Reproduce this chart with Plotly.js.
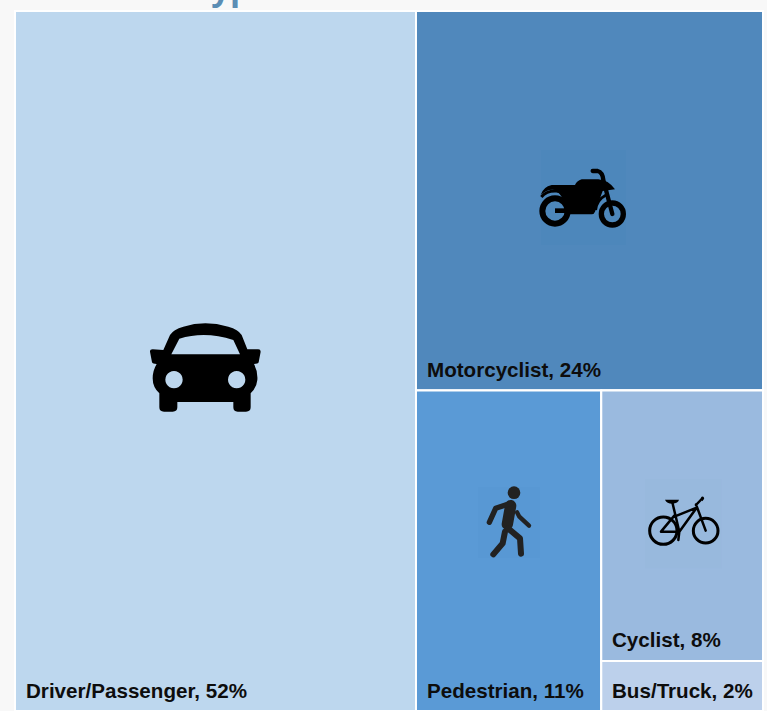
<!DOCTYPE html>
<html><head><meta charset="utf-8">
<script src="https://cdn.plot.ly/plotly-3.0.1.min.js"></script>
<style>html,body{margin:0;padding:0;background:#f8f8f8;overflow:hidden}#c{width:767px;height:711px}</style>
</head><body><div id="c"></div>
<script>
const categories = ["Driver/Passenger","Motorcyclist","Pedestrian","Cyclist","Bus/Truck"];
const percentLabels = [52,24,11,8,2];
const areaValues = [52,24.4,11,8.1,1.5];
const tileColors = ["#BDD7EE","#5088BC","#5A9AD6","#9ABADF","#BCD0EB"];
const titleText = "Cost User Type";

const W=767,H=711;
const sum=a=>a.reduce((p,c)=>p+c,0);
const v=areaValues, c=categories, t=tileColors;
const ids=["root",c[0],"rest",c[1],"bottom",c[2],"side",c[3],c[4]];
const parents=["","root","root","rest","rest","bottom","bottom","side","side"];
const values=[sum(v),v[0],v[1]+v[2]+v[3]+v[4],v[1],v[2]+v[3]+v[4],v[2],v[3]+v[4],v[3],v[4]];
const colors=["#fff",t[0],"#fff",t[1],"#fff",t[2],"#fff",t[3],t[4]];

const trace={type:"treemap",ids:ids,labels:ids,parents:parents,values:values,branchvalues:"total",sort:false,
 textinfo:"none",hoverinfo:"skip",
 tiling:{packing:"slice-dice",pad:0},
 pathbar:{visible:false},
 marker:{colors:colors,line:{color:"#fff",width:2},pad:{t:0,l:0,r:0,b:0}},
 domain:{x:[15/W,763/W],y:[1-711/H,1-11/H]}};

function svg(vb,body){return "data:image/svg+xml;charset=utf-8,"+encodeURIComponent('<svg xmlns="http://www.w3.org/2000/svg" viewBox="0 0 '+vb+'">'+body+'</svg>');}
const car=svg("450 390",'<path fill="#000" fill-rule="evenodd" d="M100,150 L120,105 Q130,88 160,80 Q225,60 295,80 Q325,88 335,105 L352,148 L385,148 Q392,148 392,155 L386,187 Q384,192 372,192 Q384,215 382,240 Q380,262 362,280 L362,322 Q362,335 348,335 L323,335 Q310,335 310,322 L310,306 L142,306 L142,322 Q142,335 128,335 L102,335 Q88,335 88,322 L88,280 Q68,262 68,235 Q68,212 80,192 Q68,192 66,187 L60,155 Q60,148 68,148 Z M124,163 L148,116 Q225,92 310,120 L330,163 Z M132,213 a26,26 0 1,0 .01,0 Z M320,213 a26,26 0 1,0 .01,0 Z"/>');
const moto=svg("330 315",'<rect x="33" y="15" width="255" height="285" fill="#4A84BA" opacity="0.3"/><g fill="none" stroke="#000"><circle cx="75" cy="198" r="38" stroke-width="18"/><circle cx="247" cy="207" r="33" stroke-width="16"/><path d="M75,197 H120" stroke-width="14"/><path d="M188,78 H203 Q218,82 220,105 L247,207" stroke-width="13" stroke-linecap="round"/><path d="M34,156 Q50,136 80,138 Q118,145 130,190" stroke-width="9"/><path d="M197,195 Q200,165 228,150" stroke-width="8"/></g><path fill="#000" d="M32,150 Q40,125 65,120 L135,120 Q140,108 155,103 L205,103 Q235,105 255,133 L218,138 L195,200 Q192,208 185,208 L105,208 L105,187 Q100,150 75,135 Q55,130 32,150 Z"/>');
const walker=svg("240 285",'<rect x="24" y="36" width="186" height="213" fill="#5595D2" opacity="0.3"/><circle cx="132" cy="53" r="19" fill="#222"/><g fill="none" stroke="#222" stroke-linecap="round" stroke-linejoin="round"><path d="M122,92 L112,148" stroke-width="34"/><path d="M122,85 L77,100 L58,142" stroke-width="16"/><path d="M141,112 L148,125 L177,152" stroke-width="13"/><path d="M105,170 L98,205 L70,238" stroke-width="18"/><path d="M114,160 L150,190 L153,236" stroke-width="18"/></g>');
const bike=svg("300 285",'<rect x="30" y="12" width="230" height="268" fill="#96B6DC" opacity="0.3"/><g fill="none" stroke="#000" stroke-linejoin="round"><circle cx="85" cy="167" r="41" stroke-width="9"/><circle cx="212" cy="167" r="37" stroke-width="9"/><path d="M112,82 L133,170 M118,125 L185,98 L133,170 L78,170 L118,122 M183,88 L212,167 M183,90 L200,72 M133,170 L130,195" stroke-width="7.5" stroke-linecap="round"/></g><path fill="#000" d="M90,74 H132 Q130,84 112,86 Q95,86 90,74 Z"/><path fill="#000" d="M198,72 a5,5 0 1,1 9,0 l-5,7 Z"/>');
const place=(src,x,y,w,h)=>({source:src,xref:"paper",yref:"paper",x:x/W,y:1-y/H,sizex:w/W,sizey:h/H,xanchor:"left",yanchor:"top",sizing:"stretch",layer:"above"});

const labelAt=[[24,690],[425,369],[425,690],[610,639],[610,690]];
const labelAnn=categories.map((n,i)=>({xref:"paper",yref:"paper",x:labelAt[i][0]/W,y:1-labelAt[i][1]/H,xanchor:"left",yanchor:"middle",showarrow:false,
  text:"<b>"+n+", "+percentLabels[i]+"%</b>",font:{family:"Liberation Sans, Arial, sans-serif",size:20.6,color:"#0d0d0d"}}));

const layout={width:W,height:H,margin:{t:0,l:0,r:0,b:0},paper_bgcolor:"#f8f8f8",showlegend:false,
 images:[place(car,130,300,150,130),place(moto,530,145,110,105),place(walker,470,475,80,95),place(bike,635,475,100,95)],
 annotations:labelAnn.concat([{xref:"paper",yref:"paper",x:25/W,y:1,xanchor:"left",yanchor:"bottom",yshift:-12,showarrow:false,
  text:"<b>"+titleText+"</b>",font:{family:"Open Sans, sans-serif",size:33,color:"#5B8DB4"}}])};
Plotly.newPlot("c",[trace],layout,{displayModeBar:false,staticPlot:true});
</script></body></html>
